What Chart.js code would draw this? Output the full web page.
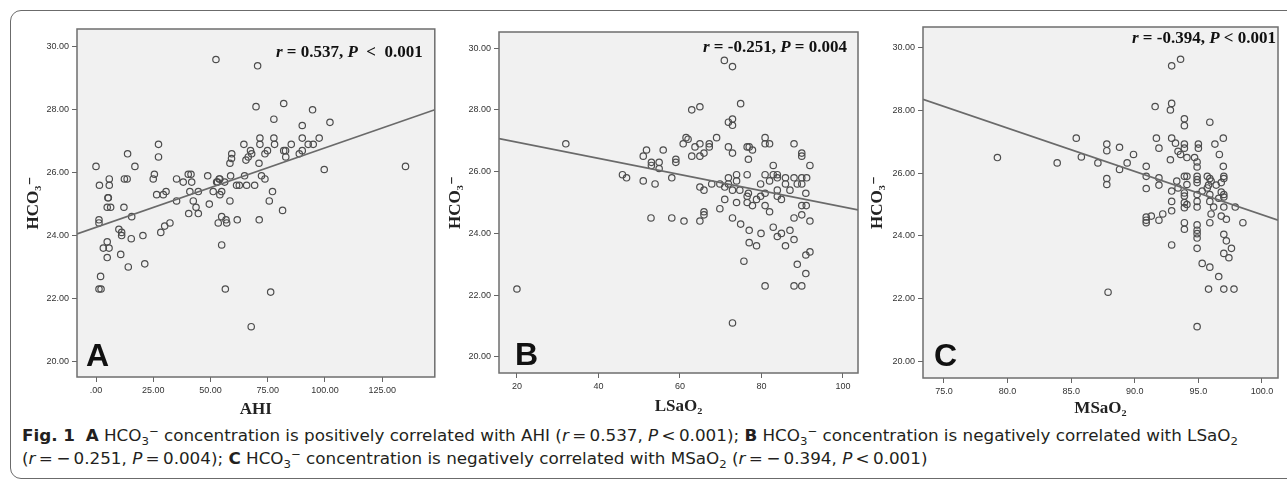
<!DOCTYPE html>
<html>
<head>
<meta charset="utf-8">
<script src="https://cdn.jsdelivr.net/npm/chart.js@4.4.0/dist/chart.umd.min.js"></script>
<style>
    body { margin: 0; background: #fff; width: 1287px; height: 484px; overflow: hidden; position: relative; }
    #frame { position: absolute; left: 10px; top: 10px; width: 1300px; height: 467px; border: 1.5px solid #6b6b6b; border-radius: 11px; }
    .panel { position: absolute; top: 15px; height: 405px; }
    .panel canvas { display: block; }
    #caption { position: absolute; left: 22px; top: 424px; font-family: "Liberation Sans Narrow", "DejaVu Sans Condensed", Roboto, sans-serif; font-size: 16px; line-height: 23px; color: #231f20; transform-origin: 0 0; white-space: nowrap; }
    #caption .ln { display: inline-block; }
    #caption sub, #caption sup { font-size: 0.7em; line-height: 0; }
</style>
</head>
<body>
<div id="frame"></div>
<div class="panel" style="left:10px;width:430px"><canvas id="chartA"></canvas></div>
<div class="panel" style="left:440px;width:425px"><canvas id="chartB"></canvas></div>
<div class="panel" style="left:865px;width:422px"><canvas id="chartC"></canvas></div>
<div id="caption">
    <div class="ln" id="ln1"><b>Fig. 1</b>&nbsp; <b>A</b> HCO<sub>3</sub><sup>−</sup> concentration is positively correlated with AHI (<i>r</i>&thinsp;=&thinsp;0.537, <i>P</i>&thinsp;&lt;&thinsp;0.001); <b>B</b> HCO<sub>3</sub><sup>−</sup> concentration is negatively correlated with LSaO<sub>2</sub></div><br>
    <div class="ln" id="ln2">(<i>r</i>&thinsp;=&thinsp;−&thinsp;0.251, <i>P</i>&thinsp;=&thinsp;0.004); <b>C</b> HCO<sub>3</sub><sup>−</sup> concentration is negatively correlated with MSaO<sub>2</sub> (<i>r</i>&thinsp;=&thinsp;−&thinsp;0.394, <i>P</i>&thinsp;&lt;&thinsp;0.001)</div>
</div>
<script>
// HCO3- against AHI, [AHI, HCO3]
const ahiPoints = [
    [0, 26.2], [13.8, 26.6], [17, 26.2], [27.3, 26.9], [27.3, 26.5], [1.5, 25.6], [5.8, 25.8], [5.8, 25.6],
    [5.4, 25.2], [12.4, 25.8], [13.6, 25.8], [25.5, 25.95], [25, 25.8], [26.5, 25.3], [35.2, 25.8], [38.1, 25.7],
    [40.3, 25.95], [41.5, 25.95], [41.8, 25.7], [48.8, 25.9], [53.1, 25.7], [54.1, 25.8], [56.2, 25.7], [58.8, 25.9],
    [64.9, 25.9], [61.4, 25.6], [62.6, 25.6], [65.8, 25.6], [69.3, 25.6], [72.3, 25.9], [73.8, 25.8], [77.1, 25.4],
    [30.6, 25.4], [29.4, 25.3], [41, 25.4], [44.7, 25.4], [51.2, 25.4], [54.9, 25.4], [54.1, 25.3], [35.2, 25.1],
    [42.5, 25.1], [58.5, 25.1], [75.7, 25.1], [43.7, 24.9], [44.7, 24.7], [40.5, 24.7], [49.5, 25.0], [81.5, 24.8],
    [53.4, 24.4], [54.9, 24.6], [56.8, 24.5], [57.1, 24.4], [61.7, 24.5], [71.3, 24.5], [54.9, 23.7], [56.5, 22.3],
    [76.3, 22.2], [67.8, 21.1], [1.3, 24.5], [1.3, 24.4], [4.9, 24.9], [6.4, 24.9], [12.2, 24.9], [15.6, 24.6],
    [10, 24.2], [11.2, 24.1], [11.2, 24.0], [15.4, 23.9], [20.5, 24.0], [28.3, 24.1], [30, 24.3], [32.3, 24.4],
    [3.2, 23.6], [5.7, 23.6], [4.9, 23.8], [4.9, 23.3], [10.8, 23.4], [14.1, 23.0], [21.3, 23.1], [2.0, 22.7],
    [1.3, 22.3], [2.2, 22.3], [5.2, 25.2], [52.4, 29.6], [70.6, 29.4], [69.9, 28.1], [82, 28.2], [94.6, 28.0],
    [77.7, 27.7], [90.1, 27.5], [102.2, 27.6], [71.6, 27.1], [77.7, 27.1], [90.1, 27.1], [97.5, 27.1], [64.6, 26.9],
    [67.5, 26.7], [68, 26.6], [71.6, 26.9], [74.9, 26.7], [78, 26.9], [82, 26.7], [82.8, 26.7], [85.3, 26.9],
    [88.8, 26.6], [90.1, 26.7], [92.7, 26.9], [94.9, 26.9], [59.3, 26.6], [58.5, 26.3], [65.5, 26.4], [66.5, 26.5],
    [71.2, 26.3], [73.8, 26.6], [82.9, 26.5], [99.7, 26.1], [135.2, 26.2], [59.2, 26.45], [53.8, 25.8], [52.7, 25.7]
];
// HCO3- against LSaO2
const lsaPoints = [
    [20, 22.2], [32, 26.9], [70.9, 29.6], [72.9, 29.4], [74.9, 28.2], [62.9, 28.0], [64.9, 28.1], [71.9, 27.6],
    [72.9, 27.7], [72.9, 27.5], [61.5, 27.1], [62, 27.05], [69, 27.1], [60.8, 26.9], [63.7, 26.8], [64.9, 26.9],
    [64.9, 26.5], [65.9, 26.6], [67.2, 26.9], [67.2, 26.8], [62.9, 26.5], [71.9, 26.8], [72.9, 26.6], [76.5, 26.8],
    [77, 26.8], [77.8, 26.7], [76.8, 26.4], [80.9, 27.1], [80.9, 26.9], [82, 26.9], [88, 26.9], [89.9, 26.6],
    [89.9, 26.5], [91.9, 26.2], [82.9, 26.2], [51, 26.5], [51.8, 26.7], [55.9, 26.7], [53, 26.3], [53, 26.2],
    [59, 26.4], [54.9, 26.3], [54.9, 26.1], [59, 26.3], [45.9, 25.9], [46.9, 25.8], [51, 25.7], [53.9, 25.6],
    [58, 25.8], [64.9, 25.5], [65.9, 25.4], [67.8, 25.6], [69.8, 25.6], [71, 25.5], [71.9, 25.8], [71.9, 25.6],
    [72.9, 25.4], [73.9, 25.9], [73.9, 25.7], [74.7, 25.4], [71, 25.1], [73.9, 25.0], [69.8, 24.8], [76.5, 25.9],
    [76.5, 25.2], [76.5, 25.0], [80.9, 25.9], [82.9, 25.9], [83.9, 25.9], [83.9, 25.8], [85.9, 25.8], [88, 25.8],
    [89.9, 25.8], [91.1, 25.8], [79.8, 25.6], [82, 25.7], [85.9, 25.6], [88.8, 25.6], [89.9, 25.6], [76.8, 25.3],
    [78.8, 25.1], [79.8, 25.2], [80.9, 25.3], [83.9, 25.4], [83.9, 25.2], [84.9, 25.1], [87, 25.4], [90.9, 25.3],
    [77.8, 24.9], [80.9, 24.9], [82, 24.7], [89.9, 24.9], [91, 24.9], [89.9, 24.6], [88, 24.5], [91.9, 24.4],
    [52.9, 24.5], [58, 24.5], [61, 24.4], [64.9, 24.4], [65.9, 24.7], [65.9, 24.6], [72.9, 24.5], [74.9, 24.3],
    [77, 24.1], [77, 23.7], [75.7, 23.1], [78.8, 23.6], [79.9, 24.0], [80.9, 22.3], [82.9, 24.2], [83.9, 23.9],
    [84.9, 24.0], [87, 24.1], [85.9, 23.6], [88, 23.8], [90.9, 23.3], [91.9, 23.4], [88.8, 23.0], [90.9, 22.7],
    [88, 22.3], [89.9, 22.3], [72.9, 21.1]
];
// HCO3- against MSaO2
const msaPoints = [
    [79.2, 26.5], [83.9, 26.33], [85.4, 27.12], [85.8, 26.52], [87.1, 26.33], [87.8, 26.93], [87.8, 26.72], [88.8, 26.83],
    [89.9, 26.6], [89.4, 26.33], [88.8, 26.12], [87.8, 25.83], [87.8, 25.64], [90.9, 26.22], [90.9, 25.9], [90.9, 25.51],
    [91.6, 28.13], [92.9, 29.43], [93.6, 29.64], [92.9, 28.23], [92.8, 28.02], [93.9, 27.74], [93.9, 27.52], [95.9, 27.63],
    [91.7, 27.12], [91.9, 26.8], [92.9, 27.12], [93.2, 26.96], [93.4, 26.7], [93.9, 26.8], [93.9, 26.93], [95, 26.93],
    [95, 26.8], [96.3, 26.93], [96.96, 27.12], [96.65, 26.6], [93.6, 26.6], [94.1, 26.5], [94.7, 26.5], [94.9, 26.36],
    [94.9, 26.2], [92.8, 26.43], [96.96, 26.22], [91.9, 25.85], [91.9, 25.62], [92.9, 25.43], [92.9, 25.1], [92.9, 24.8],
    [93.3, 25.75], [93.4, 25.53], [93.9, 25.9], [94.1, 25.64], [94.1, 25.9], [93.9, 25.37], [93.9, 25.27], [93.9, 25.06],
    [94.1, 25.0], [93.9, 24.9], [94.9, 25.9], [94.9, 25.8], [94.9, 25.7], [94.9, 25.32], [94.9, 25.1], [94.9, 24.92],
    [95.3, 25.43], [95.7, 25.9], [95.9, 25.83], [96, 25.75], [95.8, 25.62], [95.7, 25.53], [95.9, 25.32], [95.9, 25.1],
    [96.2, 24.92], [96, 24.7], [96.4, 25.62], [96.8, 25.7], [97, 25.9], [97, 25.83], [96.8, 25.4], [97, 25.32],
    [97, 25.24], [96.6, 25.2], [97, 24.92], [96.8, 24.63], [97.2, 24.53], [97.9, 24.92], [98.5, 24.42], [97, 24.05],
    [97.2, 23.84], [97.6, 23.6], [97, 23.44], [97.4, 23.3], [95.9, 24.42], [94.9, 24.35], [94.9, 24.18], [94.9, 24.07],
    [94.9, 23.93], [94.9, 23.6], [93.9, 24.42], [93.9, 24.21], [92.9, 23.71], [90.9, 24.6], [90.9, 24.42], [91.3, 24.63],
    [91.9, 24.5], [92.2, 24.7], [95.3, 23.12], [95.9, 23.0], [96.6, 22.7], [95.8, 22.3], [97, 22.3], [97.8, 22.3],
    [87.9, 22.2], [94.9, 21.1], [90.9, 24.5]
];

// fitted lines, read at both ends of each x range
const ahiFit = [[-8.3, 24.05], [148, 28.0]];
const lsaFit = [[15.6, 27.07], [103.7, 24.76]];
const msaFit = [[73.35, 28.36], [101.26, 24.5]];

const hcoTicks = [20, 22, 24, 26, 28, 30];
const ahiTicks = [0, 25, 50, 75, 100, 125];
const lsaTicks = [20, 40, 60, 80, 100];
const msaTicks = [75, 80, 85, 90, 95, 100];

const serif = '"Liberation Serif", "DejaVu Serif", serif';
const sans = '"Liberation Sans", Arial, sans-serif';

// plot background, frame, r/P text and panel letter
const panelText = {
    id: 'panelText',
    beforeDraw(chart) {
        const {ctx, chartArea: a} = chart;
        ctx.save();
        ctx.fillStyle = '#f1f1f1';
        ctx.fillRect(a.left, a.top, a.right - a.left, a.bottom - a.top);
        ctx.restore();
    },
    afterDraw(chart, args, opts) {
        const {ctx, chartArea: a} = chart;
        ctx.save();
        ctx.strokeStyle = '#6e6e6e';
        ctx.lineWidth = 1.5;
        ctx.strokeRect(a.left, a.top, a.right - a.left, a.bottom - a.top);

        ctx.fillStyle = '#111';
        ctx.textBaseline = 'middle';
        let fonts = opts.stat.map(s => (s[1] ? 'italic ' : '') + 'bold 17px ' + serif);
        let total = 0;
        opts.stat.forEach((s, i) => { ctx.font = fonts[i]; total += ctx.measureText(s[0]).width; });
        let x = a.right - opts.statRight - total;
        opts.stat.forEach((s, i) => {
            ctx.font = fonts[i];
            ctx.fillText(s[0], x, a.top + opts.statY);
            x += ctx.measureText(s[0]).width;
        });

        ctx.font = 'bold 32px ' + sans;
        ctx.textBaseline = 'alphabetic';
        ctx.fillText(opts.letter, a.left + opts.letterX, a.bottom - opts.letterY);
        ctx.restore();
    }
};

function makePanel(id, points, fit, xr, xTicks, xFormat, xTitle, box) {
    return new Chart(document.getElementById(id), {
        type: 'scatter',
        data: {
            datasets: [{
                data: fit.map(p => ({x: p[0], y: p[1]})),
                showLine: true,
                borderColor: '#6a6a6a',
                borderWidth: 1.6,
                pointRadius: 0
            }, {
                data: points.map(p => ({x: p[0], y: p[1]})),
                pointRadius: 3.2,
                pointBorderWidth: 1.2,
                borderColor: '#4d4d4d',
                backgroundColor: 'rgba(0,0,0,0)'
            }]
        },
        options: {
            responsive: true,
            maintainAspectRatio: false,
            animation: false,
            layout: {padding: {left: 0, top: box.padTop, right: box.padRight, bottom: 0}},
            plugins: {
                legend: {display: false},
                tooltip: {enabled: false},
                panelText: box
            },
            scales: {
                x: {
                    type: 'linear',
                    min: xr[0],
                    max: xr[1],
                    afterBuildTicks: axis => { axis.ticks = xTicks.map(v => ({value: v})); },
                    afterFit: axis => { axis.height = box.xAxisHeight; },
                    border: {display: false},
                    grid: {drawOnChartArea: false, drawTicks: true, tickLength: 5, color: '#666'},
                    ticks: {font: {family: sans, size: 9}, color: '#333', padding: 3, maxRotation: 0, callback: xFormat},
                    title: {display: true, text: xTitle, font: {family: serif, size: 17, weight: 'bold'}, color: '#222', padding: {top: 0, bottom: box.xTitlePad}}
                },
                y: {
                    min: box.yMin,
                    max: box.yMax,
                    afterBuildTicks: axis => { axis.ticks = hcoTicks.map(v => ({value: v})); },
                    afterFit: axis => { axis.width = box.yAxisWidth; },
                    border: {display: false},
                    grid: {drawOnChartArea: false, drawTicks: true, tickLength: 5, color: '#666'},
                    ticks: {font: {family: sans, size: 9}, color: '#333', padding: 3, callback: v => v.toFixed(2)},
                    title: {display: true, text: 'HCO₃⁻', font: {family: serif, size: 17, weight: 'bold'}, color: '#222', padding: {top: box.yTitlePad, bottom: 0}}
                }
            }
        },
        plugins: [panelText]
    });
}

makePanel('chartA', ahiPoints, ahiFit, [-8.3, 148], ahiTicks,
    v => v === 0 ? '.00' : v.toFixed(2), 'AHI', {
        padTop: 14, padRight: 5, yAxisWidth: 67, xAxisHeight: 43, yTitlePad: 13, xTitlePad: 0,
        yMin: 19.5, yMax: 30.57,
        stat: [['r', true], [' = 0.537, ', false], ['P', true], ['  <  0.001', false]],
        statRight: 12, statY: 24, letter: 'A', letterX: 9, letterY: 11
    });
makePanel('chartB', lsaPoints, lsaFit, [15.6, 103.7], lsaTicks,
    v => String(v), 'LSaO₂', {
        padTop: 17, padRight: 7, yAxisWidth: 59, xAxisHeight: 47, yTitlePad: 5, xTitlePad: 3,
        yMin: 19.48, yMax: 30.52,
        stat: [['r', true], [' = -0.251, ', false], ['P', true], [' = 0.004', false]],
        statRight: 11, statY: 16, letter: 'B', letterX: 16, letterY: 8
    });
makePanel('chartC', msaPoints, msaFit, [73.35, 101.26], msaTicks,
    v => v.toFixed(1), 'MSaO₂', {
        padTop: 12, padRight: 9, yAxisWidth: 58, xAxisHeight: 42, yTitlePad: 2, xTitlePad: 1,
        yMin: 19.46, yMax: 30.67,
        stat: [['r', true], [' = -0.394, ', false], ['P', true], [' < 0.001', false]],
        statRight: 2, statY: 12, letter: 'C', letterX: 11, letterY: 12
    });

// squeeze the caption to the printed line length
const cap = document.getElementById('caption');
const w1 = document.getElementById('ln1').getBoundingClientRect().width;
cap.style.transform = 'scaleX(' + (1216 / w1) + ')';
</script>
</body>
</html>
